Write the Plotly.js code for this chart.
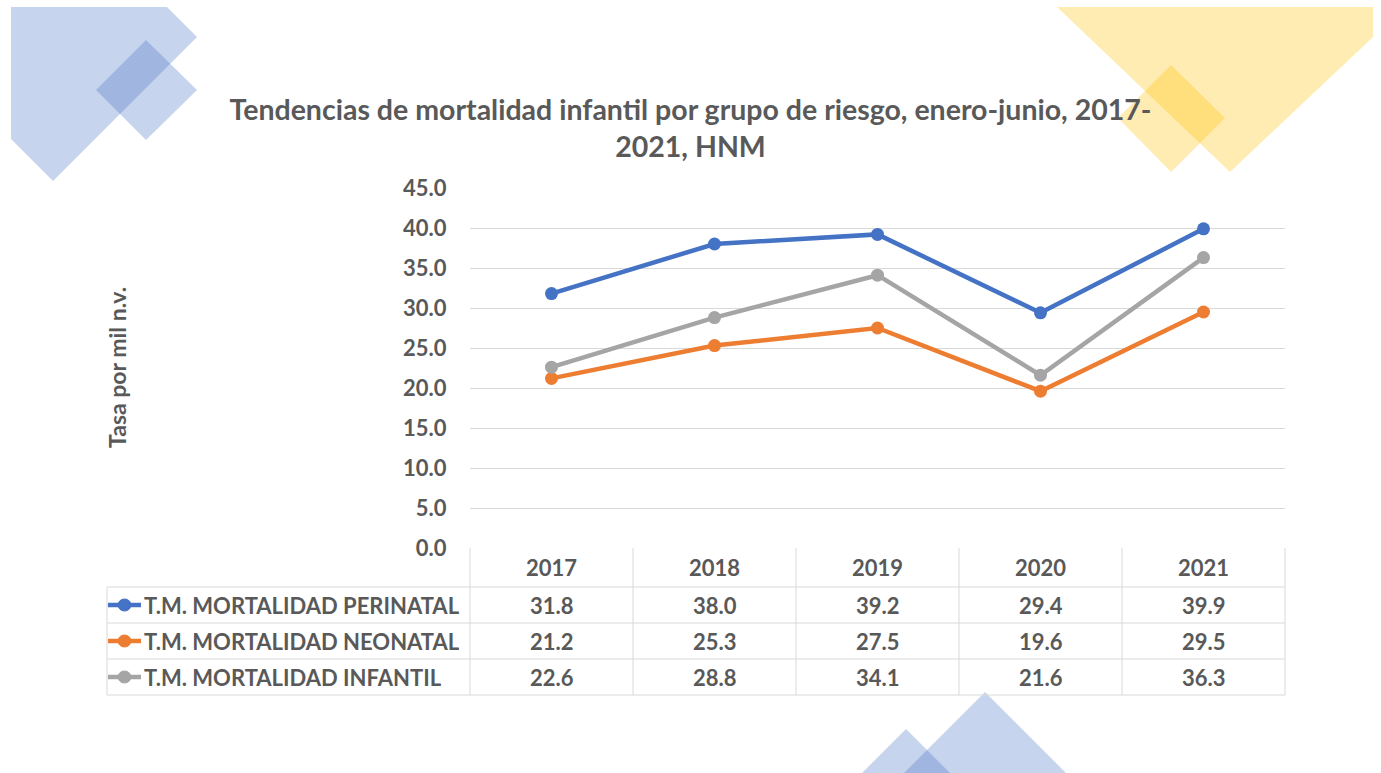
<!DOCTYPE html>
<html>
<head>
<meta charset="utf-8">
<script src="https://cdn.plot.ly/plotly-3.0.1.min.js"></script>
<style>
  html, body { margin: 0; padding: 0; background: #fff; }
  #chart { width: 1381px; height: 773px; }
</style>
</head>
<body>
<div id="chart"></div>
<script>
// --- data ---
const years = ['2017', '2018', '2019', '2020', '2021'];
const perinatal = [31.8, 38.0, 39.2, 29.4, 39.9];
const neonatal = [21.2, 25.3, 27.5, 19.6, 29.5];
const infantil = [22.6, 28.8, 34.1, 21.6, 36.3];
const seriesNames = ['T.M. MORTALIDAD PERINATAL', 'T.M. MORTALIDAD NEONATAL', 'T.M. MORTALIDAD INFANTIL'];
const seriesValues = [perinatal, neonatal, infantil];
const seriesColors = ['#4472C4', '#ED7D31', '#A5A5A5'];

// --- plot area in pixels (page is 1381 x 773) ---
const W = 1381, H = 773;
const L = 470, R = 1285, T = 188, B = 548;
const px = x => (x - L) / (R - L);   // pixel -> paper x
const py = y => (B - y) / (B - T);   // pixel -> paper y

const textGrey = '#595959';
const gridGrey = '#d9d9d9';
const fontFam = 'Lato, "Open Sans", sans-serif';

// data table rows (pixel centres) and borders
const headerY = 567;
const rowY = [605, 641, 677];
const rowLines = [587, 623, 659, 695];
const colEdges = [470, 633, 796, 959, 1122, 1285];

const data = seriesValues.map((vals, i) => ({
    x: years, y: vals, name: seriesNames[i],
    type: 'scatter', mode: 'lines+markers',
    line: { color: seriesColors[i], width: 4.5 },
    marker: { color: seriesColors[i], size: 13 },
    hoverinfo: 'x+y+name',
}));

const shapes = [];

// decorative background shapes
const poly = (pts, color) => ({
    type: 'path', xref: 'paper', yref: 'paper', layer: 'below',
    path: 'M ' + pts.map(p => px(p[0]) + ',' + py(p[1])).join(' L ') + ' Z',
    fillcolor: color, line: { width: 0 },
});
const blue = 'rgba(68,114,196,0.3)';
const gold = 'rgba(255,192,0,0.3)';
shapes.push(poly([[11, 7], [167, 7], [197, 37], [53, 181], [11, 139]], blue));
shapes.push(poly([[146, 40], [197, 90], [146, 140], [96, 90]], blue));
shapes.push(poly([[1057, 7], [1373, 7], [1373, 37], [1230, 172]], gold));
shapes.push(poly([[1171, 65], [1225, 118], [1171, 172], [1118, 118]], gold));
shapes.push(poly([[985, 692], [1066, 773], [904, 773]], blue));
shapes.push(poly([[906, 729], [950, 773], [862, 773]], blue));

// table grid
const hline = (y, x0, x1) => ({
    type: 'line', xref: 'paper', yref: 'paper',
    x0: px(x0), x1: px(x1), y0: py(y), y1: py(y),
    line: { color: gridGrey, width: 1 },
});
const vline = (x, y0, y1) => ({
    type: 'line', xref: 'paper', yref: 'paper',
    x0: px(x), x1: px(x), y0: py(y0), y1: py(y1),
    line: { color: gridGrey, width: 1 },
});
rowLines.forEach(y => shapes.push(hline(y, 107, R)));
shapes.push(vline(107, rowLines[0], rowLines[3]));
colEdges.forEach(x => shapes.push(vline(x, B, rowLines[3])));

// legend keys inside the table
seriesColors.forEach((c, i) => {
    shapes.push({
        type: 'line', xref: 'paper', yref: 'paper',
        x0: px(108), x1: px(141), y0: py(rowY[i]), y1: py(rowY[i]),
        line: { color: c, width: 4.5 },
    });
    shapes.push({
        type: 'circle', xref: 'paper', yref: 'paper',
        x0: px(118), x1: px(131), y0: py(rowY[i] - 6), y1: py(rowY[i] + 6),
        fillcolor: c, line: { color: c, width: 1 },
    });
});

const annotations = [];
const cellFont = { family: fontFam, size: 22, color: textGrey, weight: 700 };

// year header (category axis: x is the category index)
years.forEach((yr, j) => annotations.push({
    x: j, xref: 'x', y: py(headerY), yref: 'paper',
    text: yr, showarrow: false, font: cellFont, xanchor: 'center', yanchor: 'middle',
}));
// series rows
seriesValues.forEach((vals, i) => {
    annotations.push({
        x: px(142), xref: 'paper', y: py(rowY[i]), yref: 'paper',
        text: seriesNames[i], showarrow: false, font: cellFont,
        xanchor: 'left', yanchor: 'middle',
    });
    vals.forEach((v, j) => annotations.push({
        x: j, xref: 'x', y: py(rowY[i]), yref: 'paper',
        text: v.toFixed(1), showarrow: false, font: cellFont,
        xanchor: 'center', yanchor: 'middle',
    }));
});
// y axis title
annotations.push({
    x: px(117), xref: 'paper', y: py(368), yref: 'paper',
    text: 'Tasa por mil n.v.', textangle: -90, showarrow: false,
    font: { family: fontFam, size: 23, color: textGrey, weight: 700 },
    xanchor: 'center', yanchor: 'middle',
});

const layout = {
    width: W, height: H,
    margin: { l: L, r: W - R, t: T, b: H - B, pad: 0 },
    paper_bgcolor: '#ffffff', plot_bgcolor: 'rgba(0,0,0,0)',
    showlegend: false,
    title: {
        text: 'Tendencias de mortalidad infantil por grupo de riesgo, enero-junio, 2017-<br>2021, HNM',
        font: { family: fontFam, size: 28.5, color: textGrey, weight: 700 },
        x: 0.5, xref: 'container', xanchor: 'center',
        y: 1 - 120 / H, yref: 'container', yanchor: 'middle',
    },
    xaxis: {
        type: 'category', range: [-0.5, 4.5],
        showgrid: false, zeroline: false, showline: false,
        showticklabels: false, fixedrange: true,
    },
    yaxis: {
        range: [0, 45], dtick: 5, tickformat: '.1f',
        showgrid: true, gridcolor: gridGrey, gridwidth: 1,
        zeroline: false, showline: false,
        ticks: 'outside', ticklen: 18, tickcolor: 'rgba(0,0,0,0)',
        tickfont: { family: fontFam, size: 22, color: textGrey, weight: 700 },
        fixedrange: true,
    },
    shapes: shapes,
    annotations: annotations,
};

Plotly.newPlot('chart', data, layout, { displayModeBar: false, responsive: false });
</script>
</body>
</html>
